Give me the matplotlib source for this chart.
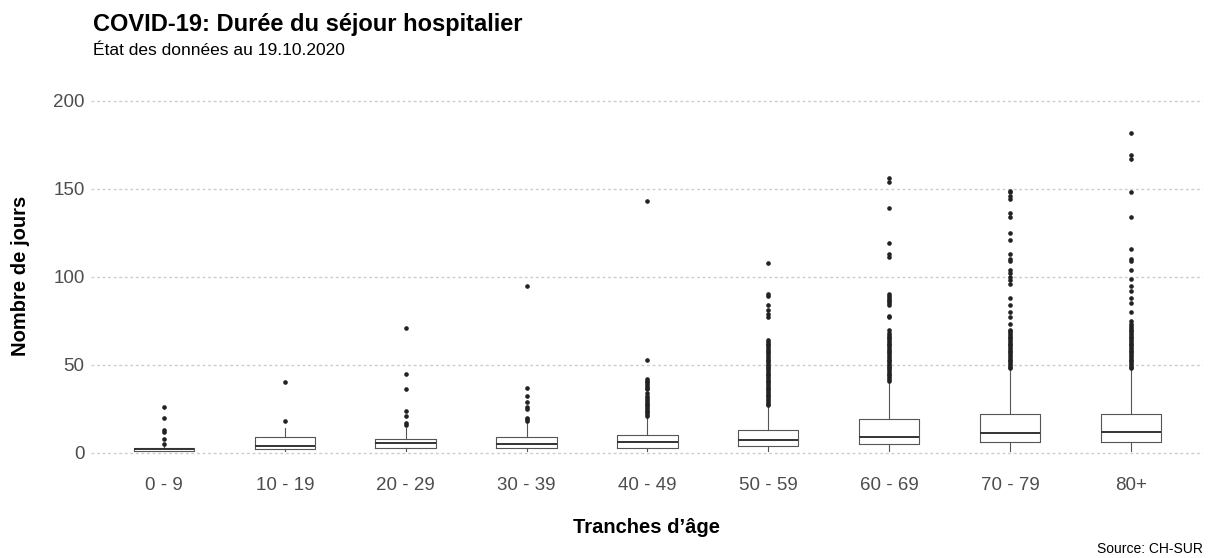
import matplotlib
matplotlib.use('Agg')
import matplotlib.pyplot as plt

plt.rcParams['font.family'] = ['Liberation Sans', 'DejaVu Sans']

# age groups and box statistics (days)
age_groups = ['0 - 9', '10 - 19', '20 - 29', '30 - 39', '40 - 49',
              '50 - 59', '60 - 69', '70 - 79', '80+']
q1 = [1, 2, 3, 3, 3, 4, 5, 6, 6]
median = [2, 4, 5.5, 5, 6, 7.5, 9, 11, 12]
q3 = [3, 9, 8, 9, 10, 13, 19, 22, 22]
whisker_low = [1, 1, 1, 1, 1, 1, 1, 1, 1]
whisker_high = [4, 14, 14, 17, 20, 26, 40, 47, 47]

outliers = [
    [5, 8, 12, 13, 20, 26],
    [18, 40],
    [16, 17, 21, 24, 36, 45, 71],
    [18, 19, 20, 25, 26, 29, 32, 37, 95],
    [21, 22, 23, 24, 25, 26, 27, 28, 29, 30, 31, 32, 34, 36, 37, 38, 39,
     40, 41, 42, 53, 143],
    [27, 28, 29, 30, 31, 32, 33, 34, 35, 36, 37, 38, 39, 40, 41, 42, 43,
     44, 45, 46, 47, 48, 49, 50, 51, 52, 53, 54, 55, 56, 57, 58, 59, 60,
     61, 62, 63, 64, 77, 79, 81, 84, 89, 90, 108],
    [41, 42, 43, 44, 45, 46, 47, 48, 49, 50, 51, 52, 53, 54, 55, 56, 57,
     58, 59, 60, 61, 62, 63, 64, 65, 66, 67, 68, 70, 77, 78, 84, 85, 86,
     87, 88, 89, 90, 111, 113, 119, 139, 154, 156],
    [48, 49, 50, 51, 52, 53, 54, 55, 56, 57, 58, 59, 60, 61, 62, 63, 64,
     65, 66, 67, 68, 69, 70, 73, 77, 80, 84, 88, 96, 98, 100, 102, 104,
     109, 110, 113, 121, 125, 134, 136, 144, 146, 148, 149],
    [48, 49, 50, 51, 52, 53, 54, 55, 56, 57, 58, 59, 60, 61, 62, 63, 64,
     65, 66, 67, 68, 69, 70, 71, 72, 73, 75, 80, 85, 88, 92, 95, 99, 104,
     109, 110, 116, 134, 148, 167, 169, 182],
]

stats = []
for i, name in enumerate(age_groups):
    stats.append({'label': name, 'q1': q1[i], 'med': median[i], 'q3': q3[i],
                  'whislo': whisker_low[i], 'whishi': whisker_high[i],
                  'fliers': outliers[i]})

fig = plt.figure(figsize=(12.13, 5.58), dpi=100)
ax = fig.add_axes([0.0754, 0.157, 0.9166, 0.678])

box_color = '#555555'
ax.bxp(stats, positions=range(len(age_groups)), widths=0.5, showcaps=False,
       boxprops=dict(color=box_color, linewidth=0.8),
       whiskerprops=dict(color=box_color, linewidth=0.8),
       medianprops=dict(color='#333333', linewidth=1.4),
       flierprops=dict(marker='o', markersize=2.3, markerfacecolor='#222222',
                       markeredgecolor='#222222'))

ax.set_xlim(-0.6, 8.6)
ax.set_ylim(-10, 205)
ax.set_yticks([0, 50, 100, 150, 200])
ax.set_xticks(range(len(age_groups)))
ax.set_xticklabels(age_groups)
ax.yaxis.grid(True, color='#cccccc', linestyle=(0, (2, 2)), linewidth=1)
ax.set_axisbelow(True)
for s in ax.spines.values():
    s.set_visible(False)
ax.tick_params(axis='both', length=0, labelsize=13.5, labelcolor='#4d4d4d')
ax.tick_params(axis='x', pad=5)
ax.tick_params(axis='y', pad=5)

fig.text(0.077, 0.944, 'COVID-19: Durée du séjour hospitalier',
         fontsize=17, fontweight='bold', va='baseline')
fig.text(0.077, 0.902, 'État des données au 19.10.2020',
         fontsize=12.5, va='baseline')
fig.text(0.017, 0.505, 'Nombre de jours', rotation=90, fontsize=14.5,
         fontweight='bold', ha='center', va='center')
fig.text(0.533, 0.054, 'Tranches d’âge', fontsize=14.5, fontweight='bold',
         ha='center', va='center')
fig.text(0.992, 0.016, 'Source: CH-SUR', fontsize=10, ha='right', va='center')

fig.savefig('out.png', dpi=100)
